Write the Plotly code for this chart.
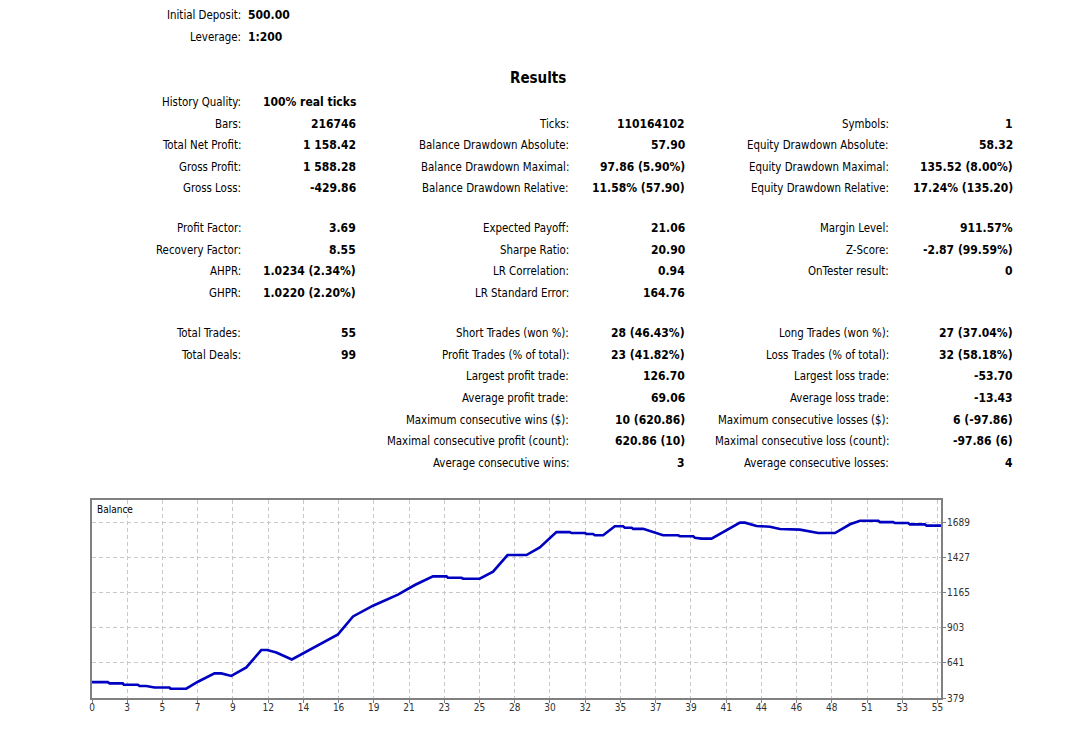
import plotly.graph_objects as go

# Balance curve (trade number vs balance)
trade_no = [0, 1.03, 1.14, 2.0, 2.07, 2.98, 3.09, 3.53, 4.07, 5.04, 5.11, 6.13, 6.89, 7.97,
            8.41, 9.06, 10.04, 11.01, 11.40, 11.99, 13.0, 14.70, 16.0, 16.98, 18.28, 19.9,
            21.0, 22.18, 23.06, 23.16, 24.03, 24.14, 25.22, 26.09, 27.03, 28.26, 29.13,
            30.21, 31.08, 31.19, 32.06, 32.17, 32.6, 32.71, 33.25, 34.01, 34.55, 34.66,
            35.1, 35.2, 35.85, 37.15, 38.13, 38.24, 39.11, 39.22, 39.65, 40.3, 42.15,
            42.47, 43.23, 44.1, 44.75, 46.05, 46.49, 47.24, 48.33, 49.31, 49.96, 51.15,
            51.26, 52.12, 52.23, 53.1, 53.2, 54.18, 54.29, 55.28]
balance = [497, 497, 488, 488, 478, 478, 468, 468, 457, 457, 448, 448, 500, 562,
           562, 543, 607, 736, 736, 718, 666, 768, 852, 986, 1066, 1148,
           1220, 1284, 1284, 1274, 1274, 1267, 1267, 1319, 1443, 1443, 1500,
           1614, 1614, 1607, 1607, 1600, 1600, 1590, 1590, 1657, 1657, 1646,
           1646, 1638, 1638, 1590, 1590, 1583, 1583, 1572, 1565, 1565, 1684,
           1684, 1659, 1654, 1637, 1632, 1624, 1607, 1607, 1672, 1698, 1698,
           1688, 1688, 1681, 1681, 1671, 1671, 1662, 1662]

x_tick_labels = ["0", "3", "5", "7", "9", "12", "14", "16", "19", "21", "23", "25", "28",
                 "30", "32", "35", "37", "39", "41", "44", "46", "48", "51", "53", "55"]
y_ticks = [379, 641, 903, 1165, 1427, 1689]

# Report text
header_labels = ["Initial Deposit:", "Leverage:"]
header_values = ["500.00", "1:200"]

col1_labels = ["History Quality:", "Bars:", "Total Net Profit:", "Gross Profit:", "Gross Loss:",
               "Profit Factor:", "Recovery Factor:", "AHPR:", "GHPR:",
               "Total Trades:", "Total Deals:"]
col1_values = ["100% real ticks", "216746", "1 158.42", "1 588.28", "-429.86",
               "3.69", "8.55", "1.0234 (2.34%)", "1.0220 (2.20%)",
               "55", "99"]

col2_labels = [None, "Ticks:", "Balance Drawdown Absolute:", "Balance Drawdown Maximal:",
               "Balance Drawdown Relative:", "Expected Payoff:", "Sharpe Ratio:",
               "LR Correlation:", "LR Standard Error:", "Short Trades (won %):",
               "Profit Trades (% of total):", "Largest profit trade:", "Average profit trade:",
               "Maximum consecutive wins ($):", "Maximal consecutive profit (count):",
               "Average consecutive wins:"]
col2_values = [None, "110164102", "57.90", "97.86 (5.90%)", "11.58% (57.90)",
               "21.06", "20.90", "0.94", "164.76", "28 (46.43%)",
               "23 (41.82%)", "126.70", "69.06", "10 (620.86)", "620.86 (10)", "3"]

col3_labels = [None, "Symbols:", "Equity Drawdown Absolute:", "Equity Drawdown Maximal:",
               "Equity Drawdown Relative:", "Margin Level:", "Z-Score:", "OnTester result:",
               None, "Long Trades (won %):", "Loss Trades (% of total):", "Largest loss trade:",
               "Average loss trade:", "Maximum consecutive losses ($):",
               "Maximal consecutive loss (count):", "Average consecutive losses:"]
col3_values = [None, "1", "58.32", "135.52 (8.00%)", "17.24% (135.20)", "911.57%",
               "-2.87 (99.59%)", "0", None, "27 (37.04%)", "32 (58.18%)", "-53.70",
               "-13.43", "6 (-97.86)", "-97.86 (6)", "4"]

# page geometry in screen pixels; the page body adds an 8px offset
OFF = 8
W, H = 1089 - OFF, 734 - OFF
ML, MR, MT, MB = 92 - OFF, 148, 500 - OFF, 36
PW, PH = W - ML - MR, H - MT - MB
row_y = [102, 124, 145, 167, 188, 228, 250, 271, 293, 333, 355, 376, 398, 420, 441, 463]
FONT = "Tahoma, 'DejaVu Sans Condensed', 'DejaVu Sans', sans-serif"
PAD = {"right": 3, "left": -2, "center": 0}  # annotation box padding


def px(x):
    return (x - OFF - ML) / PW


def py(y):
    return (H - MB - (y - OFF)) / PH


annotations = []


def text(s, x, y, anchor, bold=False, size=11.4):
    annotations.append(dict(
        text="<b>%s</b>" % s if bold else s, x=px(x + PAD[anchor]), y=py(y),
        xref="paper", yref="paper",
        xanchor=anchor, yanchor="middle", showarrow=False,
        font=dict(family=FONT, size=size, color="#000000")))


for i, (lab, val) in enumerate(zip(header_labels, header_values)):
    text(lab, 240, [15, 37][i], "right")
    text(val, 248, [15, 37][i], "left", bold=True, size=12)

text("Results", 538, 78, "center", bold=True, size=15)

for labels, values, lx, vx in [(col1_labels, col1_values, 240, 355),
                               (col2_labels, col2_values, 568, 684),
                               (col3_labels, col3_values, 888, 1012)]:
    for i, (lab, val) in enumerate(zip(labels, values)):
        if lab is None:
            continue
        text(lab, lx, row_y[i], "right")
        text(val, vx, row_y[i], "right", bold=True, size=12)

annotations.append(dict(text="Balance", x=0.004, y=0.99, xref="paper", yref="paper",
                        xanchor="left", yanchor="top", showarrow=False,
                        font=dict(family=FONT, size=10, color="#000000")))

fig = go.Figure(go.Scatter(
    x=trade_no, y=balance, mode="lines",
    line=dict(color="#0000c0", width=2.6),
    hoverinfo="skip"
))

n = len(x_tick_labels) - 1
axis_style = dict(
    showgrid=True, gridcolor="#c8c8c8", griddash="4px,3px", gridwidth=1,
    showline=True, mirror=True, linecolor="#808080", linewidth=2,
    ticks="outside", ticklen=3, tickcolor="#808080",
    tickfont=dict(family=FONT, size=10, color="#303030"),
    zeroline=False, fixedrange=True,
)
fig.update_layout(
    width=W, height=H,
    margin=dict(l=ML, r=MR, t=MT, b=MB),
    paper_bgcolor="white", plot_bgcolor="white",
    showlegend=False,
    annotations=annotations,
    xaxis=dict(
        range=[0, 55 * PW / (PW - 3.5)],
        tickvals=[i * 55 / n for i in range(n + 1)],
        ticktext=x_tick_labels,
        ticklabelstandoff=-4,
        **axis_style,
    ),
    yaxis=dict(
        side="right",
        range=[379, 379 + PH * 262 / 35.2],
        tickvals=y_ticks,
        ticktext=[str(v) for v in y_ticks],
        ticklabelstandoff=-1,
        **axis_style,
    ),
)

fig.write_html("out.html")
